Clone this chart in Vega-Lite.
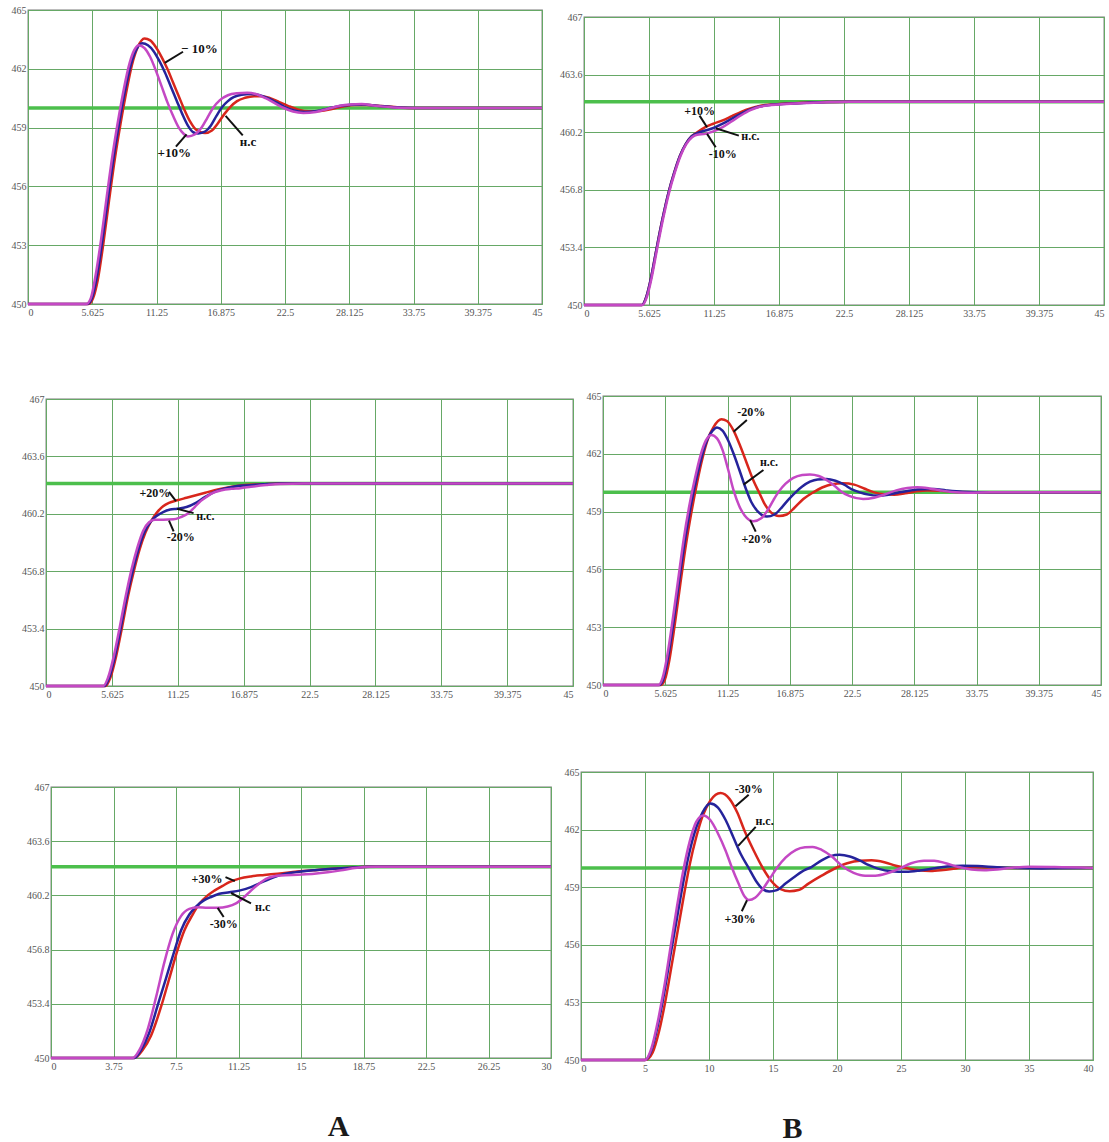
{
  "$schema": "https://vega.github.io/schema/vega-lite/v6.json",
  "padding": 0,
  "background": "white",
  "config": {
    "view": {"stroke": "#7a7a7a", "strokeWidth": 1.3},
    "axis": {"labelFont": "Liberation Serif", "labelFontSize": 10, "labelColor": "#555555", "ticks": false, "domain": false, "grid": true, "gridColor": "#66a866", "gridWidth": 1, "labelPadding": 3},
    "axisY": {"labelPadding": 2},
    "text": {"font": "Liberation Serif", "fontWeight": "bold", "fontSize": 12, "color": "#111111"},
    "line": {"strokeWidth": 2.5, "interpolate": "monotone"},
    "rule": {"color": "#111111", "strokeWidth": 2}
  },
  "datasets": {
    "p1": [
      {"case":"-10%","t":0,"T":450},{"case":"-10%","t":5.3,"T":450},{"case":"-10%","t":5.7,"T":450.3},{"case":"-10%","t":6.1,"T":451.2},{"case":"-10%","t":6.6,"T":453.1},{"case":"-10%","t":7.1,"T":455.3},{"case":"-10%","t":7.6,"T":457.4},{"case":"-10%","t":8.1,"T":459.2},{"case":"-10%","t":8.6,"T":460.8},{"case":"-10%","t":9.1,"T":462.2},{"case":"-10%","t":9.6,"T":463.1},{"case":"-10%","t":10.2,"T":463.55},{"case":"-10%","t":10.7,"T":463.45},{"case":"-10%","t":11.2,"T":463.1},{"case":"-10%","t":11.7,"T":462.6},{"case":"-10%","t":12.2,"T":462.0},{"case":"-10%","t":12.7,"T":461.3},{"case":"-10%","t":13.2,"T":460.6},{"case":"-10%","t":13.7,"T":459.9},{"case":"-10%","t":14.2,"T":459.3},{"case":"-10%","t":14.7,"T":458.9},{"case":"-10%","t":15.5,"T":458.72},{"case":"-10%","t":16.1,"T":458.85},{"case":"-10%","t":16.6,"T":459.2},{"case":"-10%","t":17.2,"T":459.7},{"case":"-10%","t":17.7,"T":460.05},{"case":"-10%","t":18.3,"T":460.35},{"case":"-10%","t":19.0,"T":460.52},{"case":"-10%","t":19.8,"T":460.6},{"case":"-10%","t":20.5,"T":460.6},{"case":"-10%","t":21.2,"T":460.5},{"case":"-10%","t":22.0,"T":460.3},{"case":"-10%","t":22.8,"T":460.1},{"case":"-10%","t":23.6,"T":459.93},{"case":"-10%","t":24.6,"T":459.83},{"case":"-10%","t":25.6,"T":459.85},{"case":"-10%","t":26.6,"T":459.95},{"case":"-10%","t":27.6,"T":460.08},{"case":"-10%","t":28.6,"T":460.15},{"case":"-10%","t":29.8,"T":460.15},{"case":"-10%","t":31,"T":460.1},{"case":"-10%","t":32.5,"T":460.03},{"case":"-10%","t":34,"T":460},{"case":"-10%","t":45,"T":460},
      {"case":"н.с.","t":0,"T":450},{"case":"н.с.","t":5.2,"T":450},{"case":"н.с.","t":5.6,"T":450.3},{"case":"н.с.","t":6.0,"T":451.3},{"case":"н.с.","t":6.5,"T":453.2},{"case":"н.с.","t":7.0,"T":455.4},{"case":"н.с.","t":7.5,"T":457.5},{"case":"н.с.","t":8.0,"T":459.3},{"case":"н.с.","t":8.5,"T":460.9},{"case":"н.с.","t":9.0,"T":462.2},{"case":"н.с.","t":9.5,"T":463.0},{"case":"н.с.","t":10.0,"T":463.3},{"case":"н.с.","t":10.5,"T":463.2},{"case":"н.с.","t":11.0,"T":462.9},{"case":"н.с.","t":11.5,"T":462.4},{"case":"н.с.","t":12.0,"T":461.8},{"case":"н.с.","t":12.5,"T":461.1},{"case":"н.с.","t":13.0,"T":460.4},{"case":"н.с.","t":13.5,"T":459.7},{"case":"н.с.","t":14.0,"T":459.1},{"case":"н.с.","t":14.5,"T":458.75},{"case":"н.с.","t":14.9,"T":458.7},{"case":"н.с.","t":15.5,"T":458.8},{"case":"н.с.","t":16.0,"T":459.1},{"case":"н.с.","t":16.5,"T":459.6},{"case":"н.с.","t":17.0,"T":460.05},{"case":"н.с.","t":17.5,"T":460.35},{"case":"н.с.","t":18.0,"T":460.55},{"case":"н.с.","t":18.7,"T":460.68},{"case":"н.с.","t":19.5,"T":460.72},{"case":"н.с.","t":20.3,"T":460.65},{"case":"н.с.","t":21.0,"T":460.5},{"case":"н.с.","t":21.7,"T":460.3},{"case":"н.с.","t":22.5,"T":460.05},{"case":"н.с.","t":23.3,"T":459.88},{"case":"н.с.","t":24.3,"T":459.8},{"case":"н.с.","t":25.3,"T":459.85},{"case":"н.с.","t":26.3,"T":459.98},{"case":"н.с.","t":27.3,"T":460.1},{"case":"н.с.","t":28.3,"T":460.17},{"case":"н.с.","t":29.3,"T":460.18},{"case":"н.с.","t":30.5,"T":460.12},{"case":"н.с.","t":32,"T":460.04},{"case":"н.с.","t":34,"T":460},{"case":"н.с.","t":45,"T":460},
      {"case":"+10%","t":0,"T":450},{"case":"+10%","t":5.1,"T":450},{"case":"+10%","t":5.5,"T":450.3},{"case":"+10%","t":5.9,"T":451.4},{"case":"+10%","t":6.4,"T":453.3},{"case":"+10%","t":6.9,"T":455.5},{"case":"+10%","t":7.4,"T":457.6},{"case":"+10%","t":7.9,"T":459.4},{"case":"+10%","t":8.4,"T":461.0},{"case":"+10%","t":8.9,"T":462.3},{"case":"+10%","t":9.3,"T":462.95},{"case":"+10%","t":9.7,"T":463.2},{"case":"+10%","t":10.2,"T":463.05},{"case":"+10%","t":10.7,"T":462.6},{"case":"+10%","t":11.2,"T":461.9},{"case":"+10%","t":11.7,"T":461.1},{"case":"+10%","t":12.2,"T":460.3},{"case":"+10%","t":12.7,"T":459.6},{"case":"+10%","t":13.2,"T":459.0},{"case":"+10%","t":13.6,"T":458.7},{"case":"+10%","t":14.0,"T":458.55},{"case":"+10%","t":14.6,"T":458.65},{"case":"+10%","t":15.2,"T":459.0},{"case":"+10%","t":15.7,"T":459.5},{"case":"+10%","t":16.2,"T":460.0},{"case":"+10%","t":16.8,"T":460.4},{"case":"+10%","t":17.5,"T":460.65},{"case":"+10%","t":18.3,"T":460.75},{"case":"+10%","t":19.2,"T":460.78},{"case":"+10%","t":20.0,"T":460.7},{"case":"+10%","t":20.8,"T":460.5},{"case":"+10%","t":21.6,"T":460.25},{"case":"+10%","t":22.4,"T":460.0},{"case":"+10%","t":23.2,"T":459.82},{"case":"+10%","t":24.1,"T":459.75},{"case":"+10%","t":25.2,"T":459.8},{"case":"+10%","t":26.2,"T":459.95},{"case":"+10%","t":27.2,"T":460.1},{"case":"+10%","t":28.2,"T":460.18},{"case":"+10%","t":29.2,"T":460.2},{"case":"+10%","t":30.4,"T":460.12},{"case":"+10%","t":32,"T":460.03},{"case":"+10%","t":34,"T":460},{"case":"+10%","t":45,"T":460}
    ],
    "p2": [
      {"case":"+10%","t":0,"T":450},{"case":"+10%","t":5.0,"T":450},{"case":"+10%","t":5.4,"T":450.5},{"case":"+10%","t":5.8,"T":451.6},{"case":"+10%","t":6.3,"T":453.4},{"case":"+10%","t":6.8,"T":455.1},{"case":"+10%","t":7.3,"T":456.6},{"case":"+10%","t":7.8,"T":457.8},{"case":"+10%","t":8.3,"T":458.8},{"case":"+10%","t":8.8,"T":459.5},{"case":"+10%","t":9.3,"T":459.95},{"case":"+10%","t":9.8,"T":460.2},{"case":"+10%","t":10.5,"T":460.5},{"case":"+10%","t":11.2,"T":460.7},{"case":"+10%","t":12,"T":460.9},{"case":"+10%","t":12.8,"T":461.15},{"case":"+10%","t":13.6,"T":461.4},{"case":"+10%","t":14.4,"T":461.6},{"case":"+10%","t":15.2,"T":461.75},{"case":"+10%","t":16.2,"T":461.83},{"case":"+10%","t":17.5,"T":461.89},{"case":"+10%","t":19,"T":461.94},{"case":"+10%","t":21,"T":461.98},{"case":"+10%","t":23,"T":462},{"case":"+10%","t":45,"T":462},
      {"case":"н.с.","t":0,"T":450},{"case":"н.с.","t":5.0,"T":450},{"case":"н.с.","t":5.4,"T":450.5},{"case":"н.с.","t":5.8,"T":451.6},{"case":"н.с.","t":6.3,"T":453.4},{"case":"н.с.","t":6.8,"T":455.1},{"case":"н.с.","t":7.3,"T":456.6},{"case":"н.с.","t":7.8,"T":457.8},{"case":"н.с.","t":8.3,"T":458.8},{"case":"н.с.","t":8.8,"T":459.5},{"case":"н.с.","t":9.3,"T":459.95},{"case":"н.с.","t":9.8,"T":460.15},{"case":"н.с.","t":10.5,"T":460.3},{"case":"н.с.","t":11.2,"T":460.45},{"case":"н.с.","t":12,"T":460.7},{"case":"н.с.","t":12.8,"T":461.0},{"case":"н.с.","t":13.6,"T":461.3},{"case":"н.с.","t":14.4,"T":461.55},{"case":"н.с.","t":15.2,"T":461.72},{"case":"н.с.","t":16.2,"T":461.82},{"case":"н.с.","t":17.5,"T":461.88},{"case":"н.с.","t":19,"T":461.93},{"case":"н.с.","t":21,"T":461.98},{"case":"н.с.","t":23,"T":462},{"case":"н.с.","t":45,"T":462},
      {"case":"-10%","t":0,"T":450},{"case":"-10%","t":5.05,"T":450},{"case":"-10%","t":5.45,"T":450.5},{"case":"-10%","t":5.85,"T":451.6},{"case":"-10%","t":6.35,"T":453.4},{"case":"-10%","t":6.85,"T":455.1},{"case":"-10%","t":7.35,"T":456.6},{"case":"-10%","t":7.85,"T":457.8},{"case":"-10%","t":8.35,"T":458.8},{"case":"-10%","t":8.85,"T":459.5},{"case":"-10%","t":9.35,"T":459.9},{"case":"-10%","t":9.8,"T":460.05},{"case":"-10%","t":10.5,"T":460.1},{"case":"-10%","t":11.2,"T":460.25},{"case":"-10%","t":12,"T":460.5},{"case":"-10%","t":12.8,"T":460.85},{"case":"-10%","t":13.6,"T":461.2},{"case":"-10%","t":14.4,"T":461.5},{"case":"-10%","t":15.2,"T":461.7},{"case":"-10%","t":16.2,"T":461.8},{"case":"-10%","t":17.5,"T":461.86},{"case":"-10%","t":19,"T":461.92},{"case":"-10%","t":21,"T":461.97},{"case":"-10%","t":23,"T":462},{"case":"-10%","t":45,"T":462}
    ],
    "p3": [
      {"case":"+20%","t":0,"T":450},{"case":"+20%","t":5.1,"T":450},{"case":"+20%","t":5.5,"T":450.5},{"case":"+20%","t":6.0,"T":451.8},{"case":"+20%","t":6.5,"T":453.5},{"case":"+20%","t":7.0,"T":455.3},{"case":"+20%","t":7.5,"T":456.8},{"case":"+20%","t":8.0,"T":458.1},{"case":"+20%","t":8.5,"T":459.1},{"case":"+20%","t":9.0,"T":459.8},{"case":"+20%","t":9.5,"T":460.3},{"case":"+20%","t":10.0,"T":460.65},{"case":"+20%","t":10.5,"T":460.85},{"case":"+20%","t":11.2,"T":461.0},{"case":"+20%","t":12,"T":461.15},{"case":"+20%","t":12.8,"T":461.3},{"case":"+20%","t":13.6,"T":461.45},{"case":"+20%","t":14.4,"T":461.6},{"case":"+20%","t":15.2,"T":461.72},{"case":"+20%","t":16,"T":461.82},{"case":"+20%","t":17,"T":461.9},{"case":"+20%","t":18.5,"T":461.95},{"case":"+20%","t":20,"T":462},{"case":"+20%","t":45,"T":462},
      {"case":"н.с.","t":0,"T":450},{"case":"н.с.","t":5.0,"T":450},{"case":"н.с.","t":5.4,"T":450.5},{"case":"н.с.","t":5.9,"T":451.8},{"case":"н.с.","t":6.4,"T":453.5},{"case":"н.с.","t":6.9,"T":455.3},{"case":"н.с.","t":7.4,"T":456.8},{"case":"н.с.","t":7.9,"T":458.1},{"case":"н.с.","t":8.4,"T":459.1},{"case":"н.с.","t":8.9,"T":459.7},{"case":"н.с.","t":9.4,"T":460.05},{"case":"н.с.","t":10.0,"T":460.3},{"case":"н.с.","t":10.6,"T":460.45},{"case":"н.с.","t":11.2,"T":460.5},{"case":"н.с.","t":12,"T":460.6},{"case":"н.с.","t":12.8,"T":460.85},{"case":"н.с.","t":13.6,"T":461.2},{"case":"н.с.","t":14.4,"T":461.5},{"case":"н.с.","t":15.2,"T":461.68},{"case":"н.с.","t":16,"T":461.8},{"case":"н.с.","t":17,"T":461.88},{"case":"н.с.","t":18.5,"T":461.95},{"case":"н.с.","t":20,"T":462},{"case":"н.с.","t":45,"T":462},
      {"case":"-20%","t":0,"T":450},{"case":"-20%","t":4.9,"T":450},{"case":"-20%","t":5.3,"T":450.5},{"case":"-20%","t":5.8,"T":451.8},{"case":"-20%","t":6.3,"T":453.5},{"case":"-20%","t":6.8,"T":455.3},{"case":"-20%","t":7.3,"T":456.9},{"case":"-20%","t":7.8,"T":458.2},{"case":"-20%","t":8.3,"T":459.2},{"case":"-20%","t":8.8,"T":459.7},{"case":"-20%","t":9.3,"T":459.85},{"case":"-20%","t":10,"T":459.85},{"case":"-20%","t":10.9,"T":459.87},{"case":"-20%","t":11.5,"T":460.0},{"case":"-20%","t":12.1,"T":460.2},{"case":"-20%","t":12.7,"T":460.6},{"case":"-20%","t":13.2,"T":460.95},{"case":"-20%","t":13.7,"T":461.2},{"case":"-20%","t":14.3,"T":461.45},{"case":"-20%","t":15,"T":461.6},{"case":"-20%","t":15.8,"T":461.68},{"case":"-20%","t":16.6,"T":461.72},{"case":"-20%","t":17.5,"T":461.8},{"case":"-20%","t":18.8,"T":461.9},{"case":"-20%","t":20,"T":461.97},{"case":"-20%","t":22,"T":462},{"case":"-20%","t":45,"T":462}
    ],
    "p4": [
      {"case":"-20%","t":0,"T":450},{"case":"-20%","t":5.2,"T":450},{"case":"-20%","t":5.6,"T":450.3},{"case":"-20%","t":6.0,"T":451.3},{"case":"-20%","t":6.5,"T":453.2},{"case":"-20%","t":7.0,"T":455.3},{"case":"-20%","t":7.5,"T":457.3},{"case":"-20%","t":8.0,"T":459.0},{"case":"-20%","t":8.5,"T":460.5},{"case":"-20%","t":9.0,"T":461.8},{"case":"-20%","t":9.5,"T":462.8},{"case":"-20%","t":10.0,"T":463.4},{"case":"-20%","t":10.7,"T":463.79},{"case":"-20%","t":11.2,"T":463.7},{"case":"-20%","t":11.8,"T":463.2},{"case":"-20%","t":12.4,"T":462.4},{"case":"-20%","t":13.0,"T":461.5},{"case":"-20%","t":13.6,"T":460.6},{"case":"-20%","t":14.1,"T":460.0},{"case":"-20%","t":14.6,"T":459.4},{"case":"-20%","t":15.2,"T":458.95},{"case":"-20%","t":15.9,"T":458.77},{"case":"-20%","t":16.6,"T":458.85},{"case":"-20%","t":17.3,"T":459.2},{"case":"-20%","t":18.1,"T":459.65},{"case":"-20%","t":19.0,"T":460.0},{"case":"-20%","t":19.8,"T":460.25},{"case":"-20%","t":20.7,"T":460.42},{"case":"-20%","t":21.7,"T":460.47},{"case":"-20%","t":22.7,"T":460.4},{"case":"-20%","t":23.6,"T":460.2},{"case":"-20%","t":24.5,"T":460.0},{"case":"-20%","t":25.4,"T":459.9},{"case":"-20%","t":26.3,"T":459.88},{"case":"-20%","t":27.3,"T":459.95},{"case":"-20%","t":28.3,"T":460.05},{"case":"-20%","t":29.3,"T":460.1},{"case":"-20%","t":30.5,"T":460.08},{"case":"-20%","t":32,"T":460.02},{"case":"-20%","t":35,"T":460},{"case":"-20%","t":45,"T":460},
      {"case":"н.с.","t":0,"T":450},{"case":"н.с.","t":5.1,"T":450},{"case":"н.с.","t":5.5,"T":450.4},{"case":"н.с.","t":5.9,"T":451.5},{"case":"н.с.","t":6.4,"T":453.4},{"case":"н.с.","t":6.9,"T":455.5},{"case":"н.с.","t":7.4,"T":457.5},{"case":"н.с.","t":7.9,"T":459.2},{"case":"н.с.","t":8.4,"T":460.6},{"case":"н.с.","t":8.9,"T":461.8},{"case":"н.с.","t":9.4,"T":462.7},{"case":"н.с.","t":9.9,"T":463.2},{"case":"н.с.","t":10.3,"T":463.36},{"case":"н.с.","t":10.8,"T":463.2},{"case":"н.с.","t":11.3,"T":462.7},{"case":"н.с.","t":11.8,"T":462.0},{"case":"н.с.","t":12.3,"T":461.2},{"case":"н.с.","t":12.9,"T":460.2},{"case":"н.с.","t":13.4,"T":459.5},{"case":"н.с.","t":14.0,"T":459.0},{"case":"н.с.","t":14.8,"T":458.74},{"case":"н.с.","t":15.5,"T":458.85},{"case":"н.с.","t":16.2,"T":459.25},{"case":"н.с.","t":16.8,"T":459.65},{"case":"н.с.","t":17.4,"T":460.0},{"case":"н.с.","t":18.0,"T":460.3},{"case":"н.с.","t":18.7,"T":460.55},{"case":"н.с.","t":19.4,"T":460.67},{"case":"н.с.","t":20.2,"T":460.69},{"case":"н.с.","t":21.0,"T":460.6},{"case":"н.с.","t":21.8,"T":460.4},{"case":"н.с.","t":22.5,"T":460.15},{"case":"н.с.","t":23.2,"T":460.0},{"case":"н.с.","t":24.0,"T":459.88},{"case":"н.с.","t":24.8,"T":459.83},{"case":"н.с.","t":25.8,"T":459.88},{"case":"н.с.","t":26.8,"T":460.0},{"case":"н.с.","t":27.8,"T":460.1},{"case":"н.с.","t":28.8,"T":460.16},{"case":"н.с.","t":29.9,"T":460.17},{"case":"н.с.","t":31,"T":460.1},{"case":"н.с.","t":32.5,"T":460.03},{"case":"н.с.","t":35,"T":460},{"case":"н.с.","t":45,"T":460},
      {"case":"+20%","t":0,"T":450},{"case":"+20%","t":5.0,"T":450},{"case":"+20%","t":5.4,"T":450.4},{"case":"+20%","t":5.8,"T":451.5},{"case":"+20%","t":6.3,"T":453.4},{"case":"+20%","t":6.8,"T":455.5},{"case":"+20%","t":7.3,"T":457.6},{"case":"+20%","t":7.8,"T":459.3},{"case":"+20%","t":8.3,"T":460.7},{"case":"+20%","t":8.8,"T":461.9},{"case":"+20%","t":9.3,"T":462.7},{"case":"+20%","t":9.8,"T":462.98},{"case":"+20%","t":10.3,"T":462.8},{"case":"+20%","t":10.8,"T":462.2},{"case":"+20%","t":11.3,"T":461.2},{"case":"+20%","t":11.8,"T":460.1},{"case":"+20%","t":12.3,"T":459.3},{"case":"+20%","t":12.8,"T":458.8},{"case":"+20%","t":13.6,"T":458.5},{"case":"+20%","t":14.3,"T":458.65},{"case":"+20%","t":14.9,"T":459.1},{"case":"+20%","t":15.4,"T":459.6},{"case":"+20%","t":15.9,"T":460.05},{"case":"+20%","t":16.5,"T":460.45},{"case":"+20%","t":17.2,"T":460.75},{"case":"+20%","t":18.0,"T":460.9},{"case":"+20%","t":18.7,"T":460.93},{"case":"+20%","t":19.5,"T":460.85},{"case":"+20%","t":20.3,"T":460.6},{"case":"+20%","t":21.0,"T":460.3},{"case":"+20%","t":21.6,"T":460.0},{"case":"+20%","t":22.3,"T":459.8},{"case":"+20%","t":23.5,"T":459.65},{"case":"+20%","t":24.5,"T":459.72},{"case":"+20%","t":25.5,"T":459.9},{"case":"+20%","t":26.5,"T":460.1},{"case":"+20%","t":27.5,"T":460.22},{"case":"+20%","t":28.4,"T":460.26},{"case":"+20%","t":29.5,"T":460.2},{"case":"+20%","t":30.5,"T":460.1},{"case":"+20%","t":31.5,"T":460.02},{"case":"+20%","t":33,"T":459.98},{"case":"+20%","t":35,"T":460},{"case":"+20%","t":45,"T":460}
    ],
    "p5": [
      {"case":"+30%","t":0,"T":450},{"case":"+30%","t":5.0,"T":450},{"case":"+30%","t":5.5,"T":450.5},{"case":"+30%","t":6.0,"T":451.4},{"case":"+30%","t":6.6,"T":453.2},{"case":"+30%","t":7.1,"T":455.0},{"case":"+30%","t":7.6,"T":456.8},{"case":"+30%","t":8.0,"T":458.0},{"case":"+30%","t":8.5,"T":459.0},{"case":"+30%","t":8.9,"T":459.67},{"case":"+30%","t":9.4,"T":460.2},{"case":"+30%","t":9.8,"T":460.5},{"case":"+30%","t":10.3,"T":460.8},{"case":"+30%","t":10.7,"T":461.03},{"case":"+30%","t":11.3,"T":461.25},{"case":"+30%","t":12.0,"T":461.39},{"case":"+30%","t":12.8,"T":461.48},{"case":"+30%","t":13.6,"T":461.56},{"case":"+30%","t":14.4,"T":461.65},{"case":"+30%","t":15.1,"T":461.73},{"case":"+30%","t":16.0,"T":461.8},{"case":"+30%","t":16.9,"T":461.87},{"case":"+30%","t":18.0,"T":461.94},{"case":"+30%","t":19.0,"T":461.99},{"case":"+30%","t":20,"T":462},{"case":"+30%","t":30,"T":462},
      {"case":"н.с.","t":0,"T":450},{"case":"н.с.","t":5.0,"T":450},{"case":"н.с.","t":5.4,"T":450.5},{"case":"н.с.","t":5.9,"T":451.6},{"case":"н.с.","t":6.4,"T":453.3},{"case":"н.с.","t":6.9,"T":455.0},{"case":"н.с.","t":7.4,"T":456.7},{"case":"н.с.","t":7.8,"T":458.0},{"case":"н.с.","t":8.3,"T":459.0},{"case":"н.с.","t":8.7,"T":459.5},{"case":"н.с.","t":9.2,"T":459.9},{"case":"н.с.","t":9.6,"T":460.1},{"case":"н.с.","t":10.1,"T":460.3},{"case":"н.с.","t":10.7,"T":460.4},{"case":"н.с.","t":11.3,"T":460.5},{"case":"н.с.","t":12.0,"T":460.72},{"case":"н.с.","t":12.7,"T":461.05},{"case":"н.с.","t":13.4,"T":461.35},{"case":"н.с.","t":14.0,"T":461.55},{"case":"н.с.","t":14.7,"T":461.66},{"case":"н.с.","t":15.8,"T":461.78},{"case":"н.с.","t":16.9,"T":461.87},{"case":"н.с.","t":18.0,"T":461.94},{"case":"н.с.","t":19.1,"T":461.99},{"case":"н.с.","t":20,"T":462},{"case":"н.с.","t":30,"T":462},
      {"case":"-30%","t":0,"T":450},{"case":"-30%","t":4.9,"T":450},{"case":"-30%","t":5.3,"T":450.5},{"case":"-30%","t":5.8,"T":451.8},{"case":"-30%","t":6.3,"T":453.8},{"case":"-30%","t":6.8,"T":456.0},{"case":"-30%","t":7.3,"T":457.8},{"case":"-30%","t":7.8,"T":458.9},{"case":"-30%","t":8.3,"T":459.35},{"case":"-30%","t":8.8,"T":459.45},{"case":"-30%","t":9.4,"T":459.42},{"case":"-30%","t":10.0,"T":459.42},{"case":"-30%","t":10.6,"T":459.5},{"case":"-30%","t":11.1,"T":459.7},{"case":"-30%","t":11.6,"T":460.1},{"case":"-30%","t":12.0,"T":460.5},{"case":"-30%","t":12.5,"T":460.95},{"case":"-30%","t":12.9,"T":461.24},{"case":"-30%","t":13.4,"T":461.4},{"case":"-30%","t":13.8,"T":461.45},{"case":"-30%","t":14.8,"T":461.5},{"case":"-30%","t":15.8,"T":461.56},{"case":"-30%","t":16.6,"T":461.65},{"case":"-30%","t":17.4,"T":461.77},{"case":"-30%","t":18.1,"T":461.9},{"case":"-30%","t":18.8,"T":461.98},{"case":"-30%","t":19.5,"T":462},{"case":"-30%","t":30,"T":462}
    ],
    "p6": [
      {"case":"-30%","t":0,"T":450},{"case":"-30%","t":5.0,"T":450},{"case":"-30%","t":5.6,"T":450.4},{"case":"-30%","t":6.1,"T":451.5},{"case":"-30%","t":6.6,"T":453.1},{"case":"-30%","t":7.1,"T":455.0},{"case":"-30%","t":7.6,"T":456.9},{"case":"-30%","t":8.1,"T":458.8},{"case":"-30%","t":8.5,"T":460.2},{"case":"-30%","t":9.0,"T":461.6},{"case":"-30%","t":9.5,"T":462.7},{"case":"-30%","t":10.1,"T":463.5},{"case":"-30%","t":10.9,"T":463.9},{"case":"-30%","t":11.6,"T":463.6},{"case":"-30%","t":12.2,"T":462.9},{"case":"-30%","t":12.8,"T":461.9},{"case":"-30%","t":13.5,"T":460.9},{"case":"-30%","t":14.2,"T":460.0},{"case":"-30%","t":14.9,"T":459.3},{"case":"-30%","t":15.6,"T":458.9},{"case":"-30%","t":16.3,"T":458.79},{"case":"-30%","t":17.0,"T":458.85},{"case":"-30%","t":17.8,"T":459.2},{"case":"-30%","t":18.8,"T":459.6},{"case":"-30%","t":19.9,"T":460.0},{"case":"-30%","t":20.8,"T":460.25},{"case":"-30%","t":21.8,"T":460.38},{"case":"-30%","t":22.7,"T":460.4},{"case":"-30%","t":23.7,"T":460.3},{"case":"-30%","t":24.6,"T":460.12},{"case":"-30%","t":25.4,"T":460.0},{"case":"-30%","t":26.4,"T":459.88},{"case":"-30%","t":27.3,"T":459.85},{"case":"-30%","t":28.3,"T":459.9},{"case":"-30%","t":29.3,"T":459.98},{"case":"-30%","t":30.5,"T":460.04},{"case":"-30%","t":32,"T":460.03},{"case":"-30%","t":34,"T":460},{"case":"-30%","t":40,"T":460},
      {"case":"н.с.","t":0,"T":450},{"case":"н.с.","t":5.0,"T":450},{"case":"н.с.","t":5.5,"T":450.5},{"case":"н.с.","t":6.0,"T":451.8},{"case":"н.с.","t":6.5,"T":453.5},{"case":"н.с.","t":7.0,"T":455.5},{"case":"н.с.","t":7.5,"T":457.4},{"case":"н.с.","t":8.0,"T":459.3},{"case":"н.с.","t":8.5,"T":460.9},{"case":"н.с.","t":9.0,"T":462.1},{"case":"н.с.","t":9.5,"T":462.9},{"case":"н.с.","t":10.1,"T":463.36},{"case":"н.с.","t":10.7,"T":463.15},{"case":"н.с.","t":11.3,"T":462.5},{"case":"н.с.","t":11.9,"T":461.6},{"case":"н.с.","t":12.5,"T":460.7},{"case":"н.с.","t":13.1,"T":460.0},{"case":"н.с.","t":13.7,"T":459.3},{"case":"н.с.","t":14.2,"T":458.9},{"case":"н.с.","t":14.7,"T":458.78},{"case":"н.с.","t":15.3,"T":458.85},{"case":"н.с.","t":16.0,"T":459.2},{"case":"н.с.","t":16.8,"T":459.6},{"case":"н.с.","t":17.5,"T":459.9},{"case":"н.с.","t":18.0,"T":460.05},{"case":"н.с.","t":18.8,"T":460.4},{"case":"н.с.","t":19.5,"T":460.62},{"case":"н.с.","t":20.2,"T":460.69},{"case":"н.с.","t":21.0,"T":460.6},{"case":"н.с.","t":21.8,"T":460.38},{"case":"н.с.","t":22.5,"T":460.15},{"case":"н.с.","t":23.2,"T":459.97},{"case":"н.с.","t":24.2,"T":459.83},{"case":"н.с.","t":25.4,"T":459.8},{"case":"н.с.","t":26.5,"T":459.87},{"case":"н.с.","t":27.5,"T":459.97},{"case":"н.с.","t":28.6,"T":460.08},{"case":"н.с.","t":29.8,"T":460.12},{"case":"н.с.","t":31,"T":460.1},{"case":"н.с.","t":32.5,"T":460.04},{"case":"н.с.","t":34,"T":460},{"case":"н.с.","t":36,"T":459.98},{"case":"н.с.","t":40,"T":460},
      {"case":"+30%","t":0,"T":450},{"case":"+30%","t":5.0,"T":450},{"case":"+30%","t":5.5,"T":450.6},{"case":"+30%","t":6.0,"T":452.0},{"case":"+30%","t":6.5,"T":453.8},{"case":"+30%","t":7.0,"T":455.9},{"case":"+30%","t":7.5,"T":458.0},{"case":"+30%","t":8.0,"T":459.9},{"case":"+30%","t":8.5,"T":461.4},{"case":"+30%","t":9.0,"T":462.4},{"case":"+30%","t":9.55,"T":462.74},{"case":"+30%","t":10.1,"T":462.5},{"case":"+30%","t":10.7,"T":461.8},{"case":"+30%","t":11.3,"T":460.9},{"case":"+30%","t":11.8,"T":460.0},{"case":"+30%","t":12.3,"T":459.2},{"case":"+30%","t":12.8,"T":458.5},{"case":"+30%","t":13.1,"T":458.33},{"case":"+30%","t":13.6,"T":458.45},{"case":"+30%","t":14.2,"T":458.9},{"case":"+30%","t":14.8,"T":459.5},{"case":"+30%","t":15.3,"T":460.0},{"case":"+30%","t":16.0,"T":460.55},{"case":"+30%","t":16.8,"T":460.95},{"case":"+30%","t":17.5,"T":461.08},{"case":"+30%","t":18.1,"T":461.1},{"case":"+30%","t":18.8,"T":460.95},{"case":"+30%","t":19.6,"T":460.6},{"case":"+30%","t":20.5,"T":460.05},{"case":"+30%","t":21.3,"T":459.75},{"case":"+30%","t":22.2,"T":459.6},{"case":"+30%","t":23.0,"T":459.6},{"case":"+30%","t":23.9,"T":459.72},{"case":"+30%","t":24.8,"T":459.95},{"case":"+30%","t":25.8,"T":460.25},{"case":"+30%","t":26.8,"T":460.38},{"case":"+30%","t":27.6,"T":460.38},{"case":"+30%","t":28.5,"T":460.25},{"case":"+30%","t":29.5,"T":460.05},{"case":"+30%","t":30.5,"T":459.92},{"case":"+30%","t":31.5,"T":459.88},{"case":"+30%","t":32.5,"T":459.92},{"case":"+30%","t":33.5,"T":460},{"case":"+30%","t":35,"T":460.06},{"case":"+30%","t":37,"T":460.05},{"case":"+30%","t":40,"T":460}
    ]
  },
  "spacing": 58,
  "align": "none",
  "resolve": {"scale": {"color": "independent"}},
  "vconcat": [
    {
      "spacing": 0,
      "align": "none",
      "resolve": {"scale": {"color": "independent"}},
      "hconcat": [
        {"width": 1, "height": 1, "data": {"values": []}, "mark": "point", "view": {"stroke": null}},
        {
          "spacing": 0, "align": "none", "resolve": {"scale": {"color": "independent"}},
          "vconcat": [
            {"width": 1, "height": 4, "data": {"values": []}, "mark": "point", "view": {"stroke": null}},
            {
              "width": 514, "height": 294,
              "layer": [
                {"data": {"values": [{"setpoint": 460}]}, "mark": {"type": "rule", "color": "#4cbf4c", "strokeWidth": 3.5},
                 "encoding": {"y": {"field": "setpoint", "type": "quantitative", "title": null, "scale": {"domain": [450, 465], "nice": false, "zero": false}, "axis": {"values": [450, 453, 456, 459, 462, 465], "format": ".6~g", "minExtent": 26, "maxExtent": 26}}}},
                {"data": {"name": "p1"}, "mark": {"type": "line"},
                 "encoding": {"x": {"field": "t", "type": "quantitative", "title": null, "scale": {"domain": [0, 45], "nice": false, "zero": false}, "axis": {"values": [0, 5.625, 11.25, 16.875, 22.5, 28.125, 33.75, 39.375, 45], "format": ".6~g", "minExtent": 16, "maxExtent": 16}},
                              "y": {"field": "T", "type": "quantitative", "title": null},
                              "color": {"field": "case", "type": "nominal", "legend": null, "scale": {"domain": ["-10%", "н.с.", "+10%"], "range": ["#d8261c", "#25239b", "#c448c4"]}}}},
                {"data": {"values": [{"t1": 13.57, "T1": 462.87, "t2": 11.97, "T2": 462.3}, {"t1": 12.95, "T1": 458.03, "t2": 13.88, "T2": 458.65}, {"t1": 18.8, "T1": 458.6, "t2": 17.3, "T2": 459.6}]}, "mark": {"type": "rule"},
                 "encoding": {"x": {"field": "t1", "type": "quantitative", "title": null}, "y": {"field": "T1", "type": "quantitative", "title": null}, "x2": {"field": "t2"}, "y2": {"field": "T2"}}},
                {"data": {"values": [{"t": 15.0, "T": 463.0, "label": "− 10%"}, {"t": 12.8, "T": 457.7, "label": "+10%"}, {"t": 19.26, "T": 458.28, "label": "н.с"}]}, "mark": {"type": "text", "fontSize": 13},
                 "encoding": {"x": {"field": "t", "type": "quantitative", "title": null}, "y": {"field": "T", "type": "quantitative", "title": null}, "text": {"field": "label"}}}
              ]
            }
          ]
        },
        {
          "spacing": 0, "align": "none", "resolve": {"scale": {"color": "independent"}},
          "vconcat": [
            {"width": 1, "height": 11, "data": {"values": []}, "mark": "point", "view": {"stroke": null}},
            {
              "width": 520, "height": 288,
              "layer": [
                {"data": {"values": [{"setpoint": 462}]}, "mark": {"type": "rule", "color": "#4cbf4c", "strokeWidth": 3.5},
                 "encoding": {"y": {"field": "setpoint", "type": "quantitative", "title": null, "scale": {"domain": [450, 467], "nice": false, "zero": false}, "axis": {"values": [450, 453.4, 456.8, 460.2, 463.6, 467], "format": ".6~g", "minExtent": 35, "maxExtent": 35}}}},
                {"data": {"name": "p2"}, "mark": {"type": "line"},
                 "encoding": {"x": {"field": "t", "type": "quantitative", "title": null, "scale": {"domain": [0, 45], "nice": false, "zero": false}, "axis": {"values": [0, 5.625, 11.25, 16.875, 22.5, 28.125, 33.75, 39.375, 45], "format": ".6~g", "minExtent": 16, "maxExtent": 16}},
                              "y": {"field": "T", "type": "quantitative", "title": null},
                              "color": {"field": "case", "type": "nominal", "legend": null, "scale": {"domain": ["+10%", "н.с.", "-10%"], "range": ["#d8261c", "#25239b", "#c448c4"]}}}},
                {"data": {"values": [{"t1": 10.0, "T1": 461.18, "t2": 10.65, "T2": 460.49}, {"t1": 13.4, "T1": 460.0, "t2": 11.4, "T2": 460.43}, {"t1": 11.4, "T1": 459.31, "t2": 10.65, "T2": 460.1}]}, "mark": {"type": "rule"},
                 "encoding": {"x": {"field": "t1", "type": "quantitative", "title": null}, "y": {"field": "T1", "type": "quantitative", "title": null}, "x2": {"field": "t2"}, "y2": {"field": "T2"}}},
                {"data": {"values": [{"t": 10.0, "T": 461.47, "label": "+10%"}, {"t": 14.4, "T": 460.0, "label": "н.с."}, {"t": 12.0, "T": 458.92, "label": "-10%"}]}, "mark": {"type": "text"},
                 "encoding": {"x": {"field": "t", "type": "quantitative", "title": null}, "y": {"field": "T", "type": "quantitative", "title": null}, "text": {"field": "label"}}}
              ]
            }
          ]
        }
      ]
    },
    {
      "spacing": 0,
      "align": "none",
      "resolve": {"scale": {"color": "independent"}},
      "hconcat": [
        {"width": 17, "height": 1, "data": {"values": []}, "mark": "point", "view": {"stroke": null}},
        {
          "spacing": 0, "align": "none", "resolve": {"scale": {"color": "independent"}},
          "vconcat": [
            {"width": 1, "height": 13, "data": {"values": []}, "mark": "point", "view": {"stroke": null}},
            {
              "width": 527, "height": 287,
              "layer": [
                {"data": {"values": [{"setpoint": 462}]}, "mark": {"type": "rule", "color": "#4cbf4c", "strokeWidth": 3.5},
                 "encoding": {"y": {"field": "setpoint", "type": "quantitative", "title": null, "scale": {"domain": [450, 467], "nice": false, "zero": false}, "axis": {"values": [450, 453.4, 456.8, 460.2, 463.6, 467], "format": ".6~g", "minExtent": 28, "maxExtent": 28}}}},
                {"data": {"name": "p3"}, "mark": {"type": "line"},
                 "encoding": {"x": {"field": "t", "type": "quantitative", "title": null, "scale": {"domain": [0, 45], "nice": false, "zero": false}, "axis": {"values": [0, 5.625, 11.25, 16.875, 22.5, 28.125, 33.75, 39.375, 45], "format": ".6~g", "minExtent": 16, "maxExtent": 16}},
                              "y": {"field": "T", "type": "quantitative", "title": null},
                              "color": {"field": "case", "type": "nominal", "legend": null, "scale": {"domain": ["+20%", "н.с.", "-20%"], "range": ["#d8261c", "#25239b", "#c448c4"]}}}},
                {"data": {"values": [{"t1": 10.5, "T1": 461.5, "t2": 11.1, "T2": 460.95}, {"t1": 12.6, "T1": 460.24, "t2": 11.2, "T2": 460.5}, {"t1": 10.9, "T1": 459.16, "t2": 10.5, "T2": 459.8}]}, "mark": {"type": "rule"},
                 "encoding": {"x": {"field": "t1", "type": "quantitative", "title": null}, "y": {"field": "T1", "type": "quantitative", "title": null}, "x2": {"field": "t2"}, "y2": {"field": "T2"}}},
                {"data": {"values": [{"t": 9.3, "T": 461.43, "label": "+20%"}, {"t": 13.6, "T": 460.05, "label": "н.с."}, {"t": 11.5, "T": 458.8, "label": "-20%"}]}, "mark": {"type": "text"},
                 "encoding": {"x": {"field": "t", "type": "quantitative", "title": null}, "y": {"field": "T", "type": "quantitative", "title": null}, "text": {"field": "label"}}}
              ]
            }
          ]
        },
        {
          "spacing": 0, "align": "none", "resolve": {"scale": {"color": "independent"}},
          "vconcat": [
            {"width": 1, "height": 10, "data": {"values": []}, "mark": "point", "view": {"stroke": null}},
            {
              "width": 498, "height": 289,
              "layer": [
                {"data": {"values": [{"setpoint": 460}]}, "mark": {"type": "rule", "color": "#4cbf4c", "strokeWidth": 3.5},
                 "encoding": {"y": {"field": "setpoint", "type": "quantitative", "title": null, "scale": {"domain": [450, 465], "nice": false, "zero": false}, "axis": {"values": [450, 453, 456, 459, 462, 465], "format": ".6~g", "minExtent": 23, "maxExtent": 23}}}},
                {"data": {"name": "p4"}, "mark": {"type": "line"},
                 "encoding": {"x": {"field": "t", "type": "quantitative", "title": null, "scale": {"domain": [0, 45], "nice": false, "zero": false}, "axis": {"values": [0, 5.625, 11.25, 16.875, 22.5, 28.125, 33.75, 39.375, 45], "format": ".6~g", "minExtent": 16, "maxExtent": 16}},
                              "y": {"field": "T", "type": "quantitative", "title": null},
                              "color": {"field": "case", "type": "nominal", "legend": null, "scale": {"domain": ["-20%", "н.с.", "+20%"], "range": ["#d8261c", "#25239b", "#c448c4"]}}}},
                {"data": {"values": [{"t1": 13.0, "T1": 463.75, "t2": 11.8, "T2": 463.15}, {"t1": 14.5, "T1": 461.16, "t2": 12.7, "T2": 460.4}, {"t1": 13.8, "T1": 457.96, "t2": 13.3, "T2": 458.56}]}, "mark": {"type": "rule"},
                 "encoding": {"x": {"field": "t1", "type": "quantitative", "title": null}, "y": {"field": "T1", "type": "quantitative", "title": null}, "x2": {"field": "t2"}, "y2": {"field": "T2"}}},
                {"data": {"values": [{"t": 13.4, "T": 464.19, "label": "-20%"}, {"t": 15.0, "T": 461.55, "label": "н.с."}, {"t": 13.9, "T": 457.6, "label": "+20%"}]}, "mark": {"type": "text"},
                 "encoding": {"x": {"field": "t", "type": "quantitative", "title": null}, "y": {"field": "T", "type": "quantitative", "title": null}, "text": {"field": "label"}}}
              ]
            }
          ]
        }
      ]
    },
    {
      "spacing": 0,
      "align": "none",
      "resolve": {"scale": {"color": "independent"}},
      "hconcat": [
        {"width": 22, "height": 1, "data": {"values": []}, "mark": "point", "view": {"stroke": null}},
        {
          "spacing": 0, "align": "none", "resolve": {"scale": {"color": "independent"}},
          "vconcat": [
            {"width": 1, "height": 20, "data": {"values": []}, "mark": "point", "view": {"stroke": null}},
            {
              "width": 500, "height": 271,
              "layer": [
                {"data": {"values": [{"setpoint": 462}]}, "mark": {"type": "rule", "color": "#4cbf4c", "strokeWidth": 3.5},
                 "encoding": {"y": {"field": "setpoint", "type": "quantitative", "title": null, "scale": {"domain": [450, 467], "nice": false, "zero": false}, "axis": {"values": [450, 453.4, 456.8, 460.2, 463.6, 467], "format": ".6~g", "minExtent": 28, "maxExtent": 28}}}},
                {"data": {"name": "p5"}, "mark": {"type": "line"},
                 "encoding": {"x": {"field": "t", "type": "quantitative", "title": "A", "scale": {"domain": [0, 30], "nice": false, "zero": false}, "axis": {"values": [0, 3.75, 7.5, 11.25, 15, 18.75, 22.5, 26.25, 30], "format": ".6~g", "minExtent": 16, "maxExtent": 16, "titleFont": "Liberation Serif", "titleFontSize": 30, "titleFontWeight": "bold", "titleColor": "#1a1a1a", "titleX": 287, "titlePadding": 37}},
                              "y": {"field": "T", "type": "quantitative", "title": null},
                              "color": {"field": "case", "type": "nominal", "legend": null, "scale": {"domain": ["+30%", "н.с.", "-30%"], "range": ["#d8261c", "#25239b", "#c448c4"]}}}},
                {"data": {"values": [{"t1": 10.47, "T1": 461.35, "t2": 11.03, "T2": 461.1}, {"t1": 12.0, "T1": 459.7, "t2": 10.8, "T2": 460.35}, {"t1": 10.36, "T1": 458.84, "t2": 10.0, "T2": 459.42}]}, "mark": {"type": "rule"},
                 "encoding": {"x": {"field": "t1", "type": "quantitative", "title": "A"}, "y": {"field": "T1", "type": "quantitative", "title": null}, "x2": {"field": "t2"}, "y2": {"field": "T2"}}},
                {"data": {"values": [{"t": 9.36, "T": 461.24, "label": "+30%"}, {"t": 12.7, "T": 459.46, "label": "н.с"}, {"t": 10.36, "T": 458.42, "label": "-30%"}]}, "mark": {"type": "text"},
                 "encoding": {"x": {"field": "t", "type": "quantitative", "title": "A"}, "y": {"field": "T", "type": "quantitative", "title": null}, "text": {"field": "label"}}}
              ]
            }
          ]
        },
        {
          "spacing": 0, "align": "none", "resolve": {"scale": {"color": "independent"}},
          "vconcat": [
            {"width": 1, "height": 5, "data": {"values": []}, "mark": "point", "view": {"stroke": null}},
            {
              "width": 512, "height": 288,
              "layer": [
                {"data": {"values": [{"setpoint": 460}]}, "mark": {"type": "rule", "color": "#4cbf4c", "strokeWidth": 3.5},
                 "encoding": {"y": {"field": "setpoint", "type": "quantitative", "title": null, "scale": {"domain": [450, 465], "nice": false, "zero": false}, "axis": {"values": [450, 453, 456, 459, 462, 465], "format": ".6~g", "minExtent": 23, "maxExtent": 23}}}},
                {"data": {"name": "p6"}, "mark": {"type": "line"},
                 "encoding": {"x": {"field": "t", "type": "quantitative", "title": "B", "scale": {"domain": [0, 40], "nice": false, "zero": false}, "axis": {"values": [0, 5, 10, 15, 20, 25, 30, 35, 40], "format": ".6~g", "minExtent": 16, "maxExtent": 16, "titleFont": "Liberation Serif", "titleFontSize": 30, "titleFontWeight": "bold", "titleColor": "#1a1a1a", "titleX": 211, "titlePadding": 37}},
                              "y": {"field": "T", "type": "quantitative", "title": null},
                              "color": {"field": "case", "type": "nominal", "legend": null, "scale": {"domain": ["-30%", "н.с.", "+30%"], "range": ["#d8261c", "#25239b", "#c448c4"]}}}},
                {"data": {"values": [{"t1": 13.1, "T1": 463.82, "t2": 12.07, "T2": 463.21}, {"t1": 13.65, "T1": 462.14, "t2": 12.28, "T2": 461.15}, {"t1": 12.56, "T1": 457.75, "t2": 12.97, "T2": 458.32}]}, "mark": {"type": "rule"},
                 "encoding": {"x": {"field": "t1", "type": "quantitative", "title": "B"}, "y": {"field": "T1", "type": "quantitative", "title": null}, "x2": {"field": "t2"}, "y2": {"field": "T2"}}},
                {"data": {"values": [{"t": 13.1, "T": 464.1, "label": "-30%"}, {"t": 14.34, "T": 462.43, "label": "н.с."}, {"t": 12.42, "T": 457.33, "label": "+30%"}]}, "mark": {"type": "text"},
                 "encoding": {"x": {"field": "t", "type": "quantitative", "title": "B"}, "y": {"field": "T", "type": "quantitative", "title": null}, "text": {"field": "label"}}}
              ]
            }
          ]
        }
      ]
    }
  ]
}
